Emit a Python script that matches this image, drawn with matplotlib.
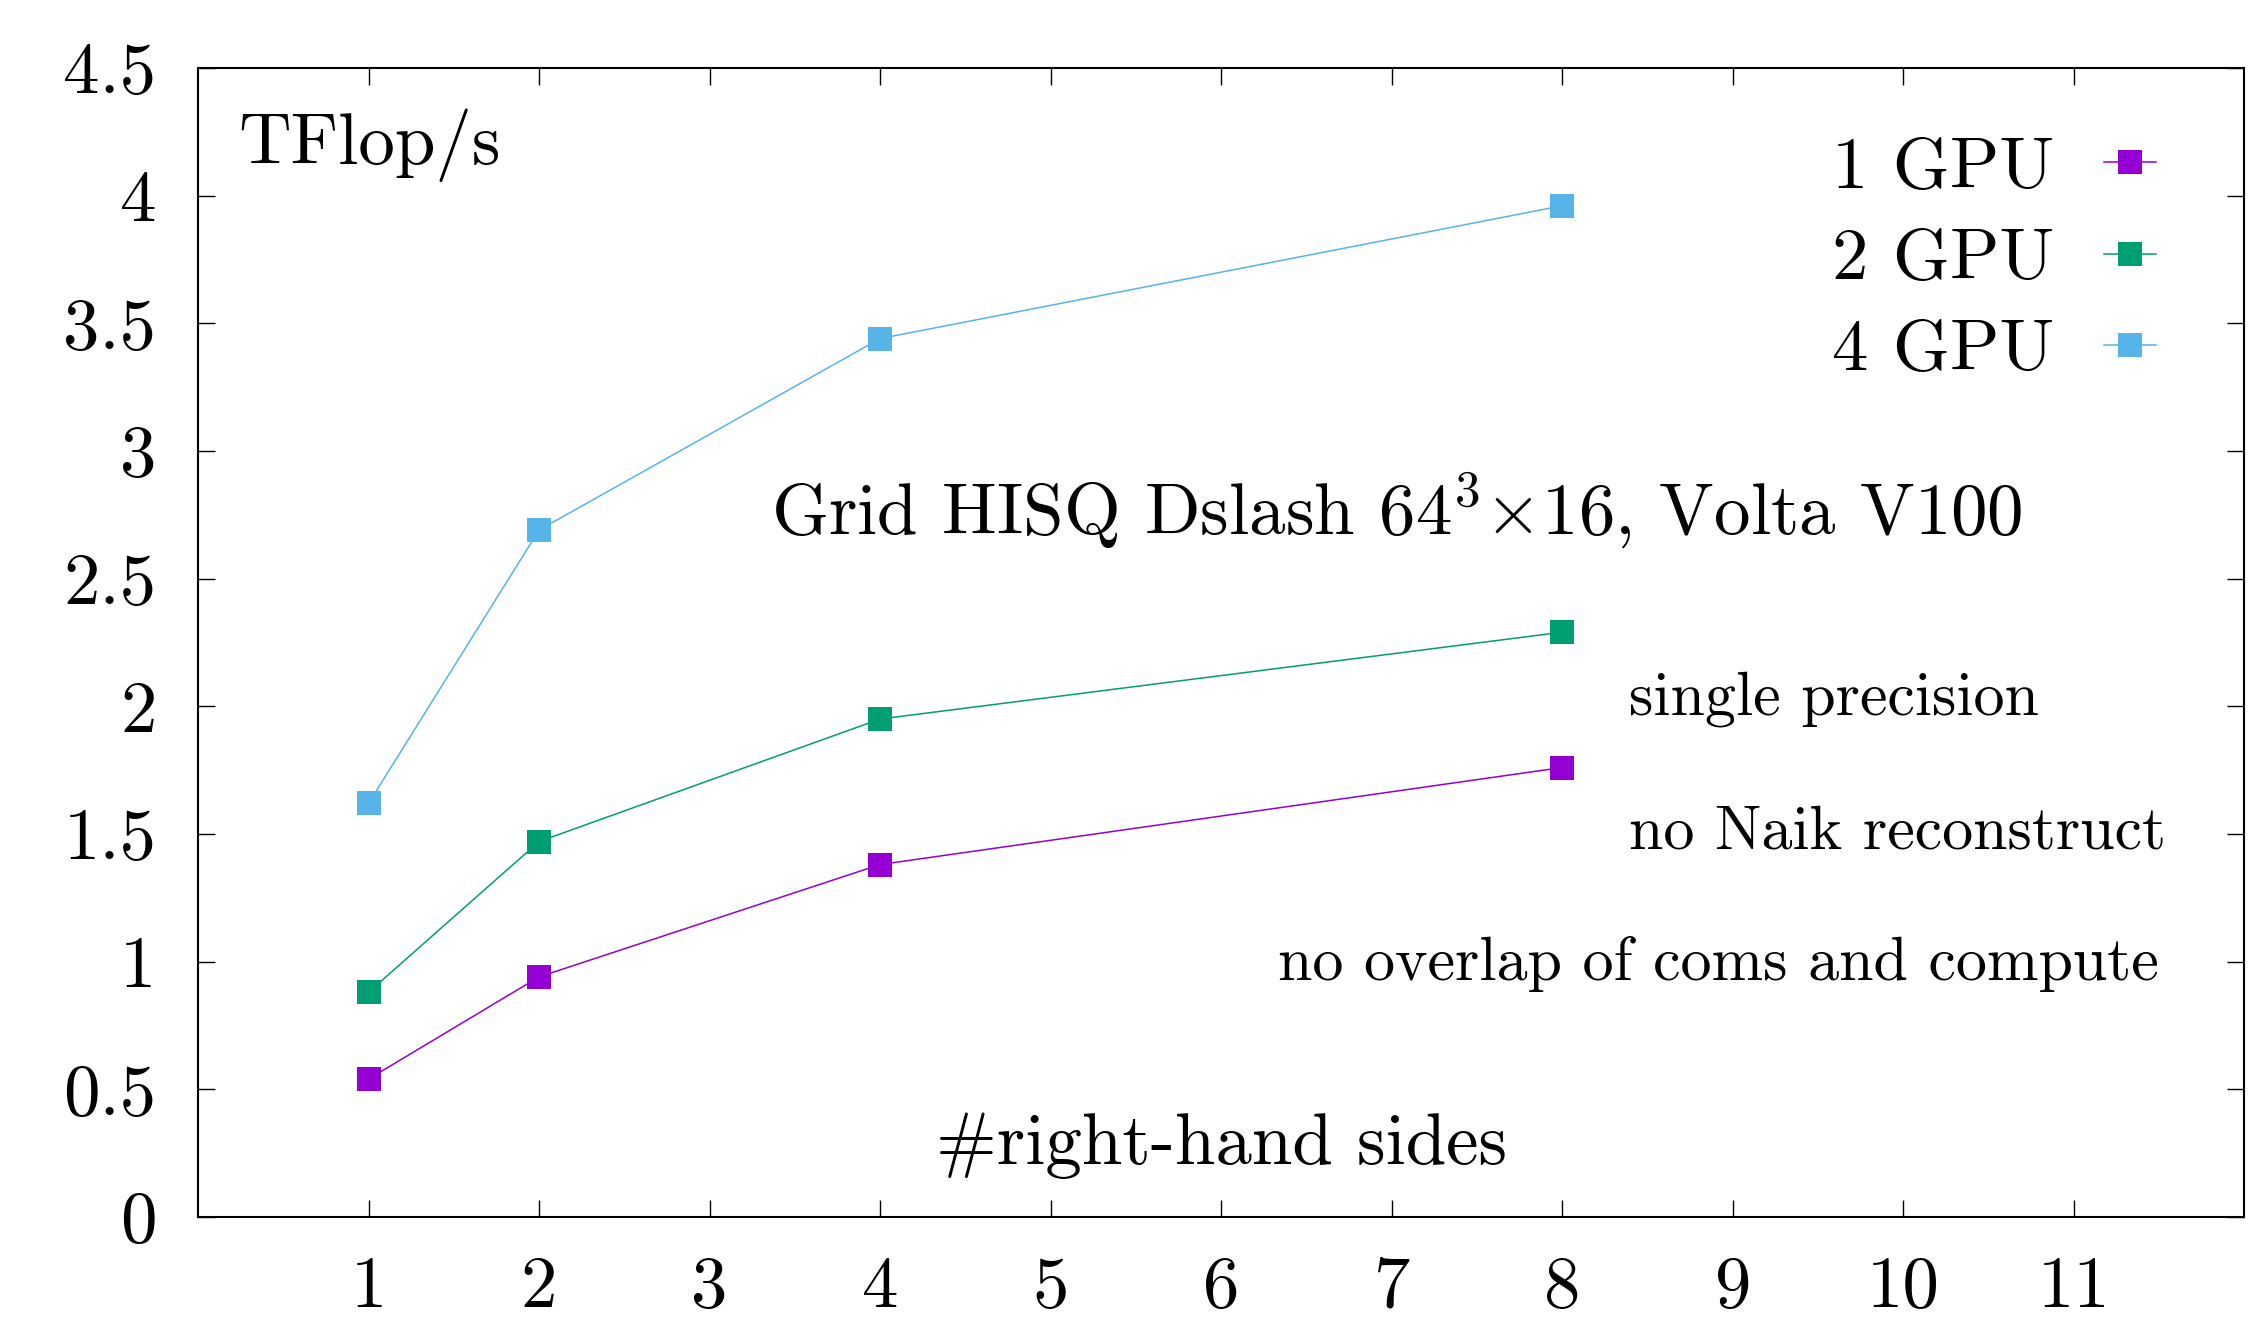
import matplotlib
matplotlib.use("Agg")
import matplotlib.pyplot as plt
from matplotlib.ticker import FixedLocator, FuncFormatter

# ---- data ----
rhs = [1, 2, 4, 8]
gpu1 = [0.54, 0.94, 1.38, 1.76]
gpu2 = [0.88, 1.47, 1.95, 2.29]
gpu4 = [1.62, 2.69, 3.44, 3.96]
series_labels = ["1 GPU", "2 GPU", "4 GPU"]
series_colors = ["#9400D3", "#009E73", "#56B4E9"]
xticks = list(range(1, 12))
yticks = [0, 0.5, 1, 1.5, 2, 2.5, 3, 3.5, 4, 4.5]

plt.rcParams["font.family"] = ["cmr10", "DejaVu Serif"]
plt.rcParams["mathtext.fontset"] = "cm"
plt.rcParams["axes.unicode_minus"] = False

BIG = 52.5
SMALL = 44.6

fig = plt.figure(figsize=(22.66, 13.21), dpi=100)
ax = fig.add_axes([0.0874, 0.0788, 0.9904 - 0.0874, 0.9486 - 0.0788])

for ys, lab, col in zip([gpu1, gpu2, gpu4], series_labels, series_colors):
    ax.plot(rhs, ys, color=col, lw=1.1, marker="s", markersize=17,
            markeredgewidth=0, label=lab)

ax.set_xlim(0, 12)
ax.set_ylim(0, 4.5)
ax.xaxis.set_major_locator(FixedLocator(xticks))
ax.yaxis.set_major_locator(FixedLocator(yticks))
ax.yaxis.set_major_formatter(FuncFormatter(lambda v, p: f"{v:g}"))
ax.tick_params(direction="in", length=12, width=1.0, labelsize=BIG,
               top=True, right=True)
ax.tick_params(axis="x", pad=28)
ax.tick_params(axis="y", pad=30)
for s in ax.spines.values():
    s.set_linewidth(1.5)

ax.text(0.0198, 0.933, "TFlop/s", transform=ax.transAxes, fontsize=BIG,
        ha="left", va="center")
ax.text(7.03, 2.77, r"Grid HISQ Dslash 64$^3$$\times$16, Volta V100",
        fontsize=BIG, ha="center", va="center")
ax.text(8.39, 2.03, "single precision", fontsize=SMALL, ha="left", va="center")
ax.text(8.39, 1.505, "no Naik reconstruct", fontsize=SMALL, ha="left", va="center")
ax.text(11.5, 0.99, "no overlap of coms and compute", fontsize=SMALL,
        ha="right", va="center")
ax.text(6.0, 0.277, "#right-hand sides", fontsize=BIG, ha="center", va="center")

leg = ax.legend(loc="upper right", bbox_to_anchor=(0.957, 0.94),
                frameon=False, fontsize=BIG, markerfirst=False,
                handlelength=0.72, handletextpad=0.68, labelspacing=0.36,
                borderpad=0, borderaxespad=0)

fig.savefig("out.png", dpi=100)
